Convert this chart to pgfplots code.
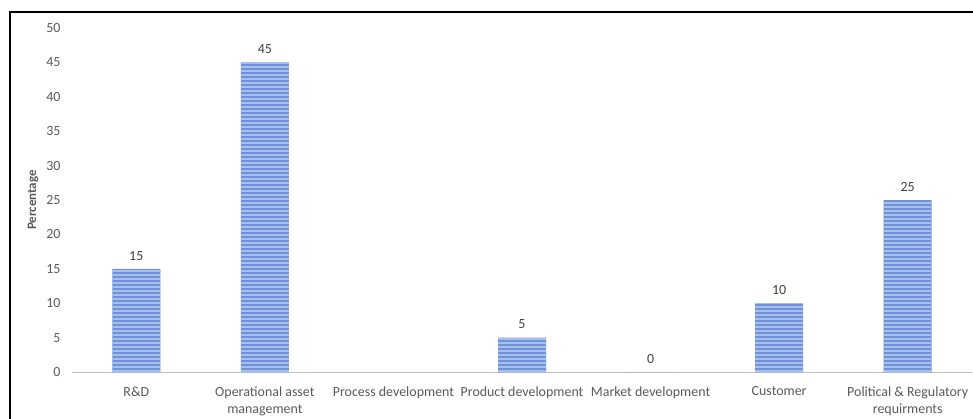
\documentclass[border=0pt]{standalone}
\usepackage{pgfplots}
\pgfplotsset{compat=1.18}
\usepackage{fontspec}
\setmainfont{Carlito}
\usetikzlibrary{patterns.meta}
\definecolor{barblue}{HTML}{6E93D8}
\definecolor{stripe}{HTML}{A8BFEA}
\definecolor{tickgray}{HTML}{595959}
\definecolor{lblgray}{HTML}{404040}
\definecolor{axisgray}{HTML}{BFBFBF}
\begin{document}
\begin{tikzpicture}
\path[use as bounding box] (0bp,0bp) rectangle (973bp,419bp);
\draw[line width=1.2bp] (10bp,-10bp) -- (10bp,407bp) -- (990bp,407bp);
\begin{axis}[
  at={(72bp,47bp)}, anchor=south west,
  scale only axis, width=900bp, height=344bp,
  xmin=-0.5, xmax=6.5, ymin=0, ymax=50,
  ytick={0,5,...,50},
  xtick={0,...,6},
  xticklabels={R\&D, Operational asset\\management, Process development, Product development, Market development, Customer, Political \& Regulatory\\requirments},
  major tick length=0pt,
  axis x line*=bottom, axis y line*=left,
  x axis line style={draw=axisgray, line width=1bp, -},
  y axis line style={draw=none},
  /pgf/number format/assume math mode=true,
  tick label style={font=\fontsize{14}{17}\selectfont, text=tickgray},
  xticklabel style={align=center, yshift=-11bp},
  yticklabel style={xshift=-8bp},
  ylabel={Percentage},
  ylabel style={font=\bfseries\fontsize{13}{15}\selectfont, text=tickgray, at={(axis description cs:-0.0433,0.5)}, anchor=center},
  ybar, bar width=48bp,
  nodes near coords,
  nodes near coords style={font=\fontsize{14}{17}\selectfont, text=lblgray, anchor=south, yshift=5bp},
]
\addplot[fill=barblue, draw=none,
  postaction={pattern={Lines[angle=0,distance=4bp,line width=1.6bp]}, pattern color=stripe}]
  coordinates {(0,15) (1,45) (3,5) (4,0) (5,10) (6,25)};
\end{axis}
\end{tikzpicture}
\end{document}
